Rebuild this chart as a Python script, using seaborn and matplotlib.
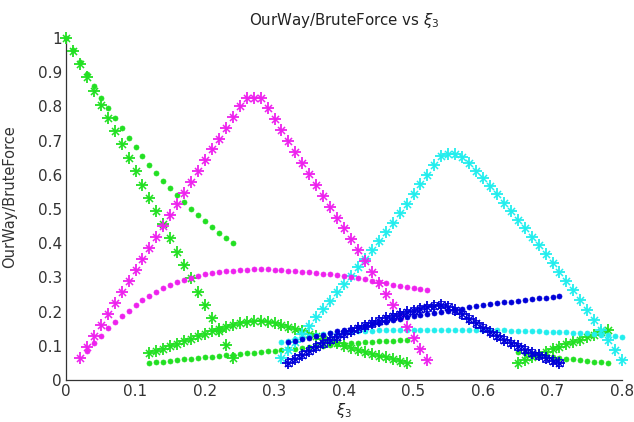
import numpy as np
import matplotlib
matplotlib.use("Agg")
import matplotlib.pyplot as plt
import seaborn as sns

# ---------------- data ----------------
g1_x0, g1_x1 = 0.00, 0.24
g1_star = [1.00, 0.962, 0.925, 0.885, 0.845, 0.805, 0.765, 0.727, 0.69, 0.65,
           0.61, 0.57, 0.532, 0.495, 0.455, 0.415, 0.375, 0.337, 0.297, 0.258,
           0.22, 0.182, 0.143, 0.103, 0.065]
g1_dot = [1.00, 0.965, 0.93, 0.895, 0.86, 0.826, 0.794, 0.765, 0.736, 0.708,
          0.682, 0.655, 0.63, 0.606, 0.582, 0.56, 0.54, 0.52, 0.50, 0.482,
          0.465, 0.448, 0.43, 0.415, 0.40]

g2_x0, g2_x1 = 0.12, 0.49
g2_star = [0.08, 0.086, 0.092, 0.099, 0.106, 0.113, 0.12, 0.128, 0.135, 0.142,
           0.148, 0.155, 0.161, 0.166, 0.17, 0.172, 0.172, 0.17, 0.166, 0.161,
           0.155, 0.149, 0.142, 0.135, 0.128, 0.121, 0.114, 0.107, 0.10, 0.094,
           0.088, 0.082, 0.076, 0.071, 0.066, 0.061, 0.056, 0.051]
g2_dot = [0.05, 0.052, 0.054, 0.056, 0.058, 0.06, 0.062, 0.064, 0.066, 0.068,
          0.07, 0.072, 0.074, 0.076, 0.078, 0.08, 0.082, 0.084, 0.086, 0.088,
          0.09, 0.092, 0.094, 0.096, 0.098, 0.10, 0.102, 0.104, 0.106, 0.107,
          0.109, 0.11, 0.111, 0.113, 0.114, 0.115, 0.116, 0.117]

g3_x0, g3_x1 = 0.65, 0.78
g3_star = [0.05, 0.058, 0.066, 0.074, 0.082, 0.09, 0.097, 0.104, 0.111, 0.118,
           0.125, 0.132, 0.139, 0.146]
g3_dot = [0.083, 0.079, 0.076, 0.073, 0.07, 0.067, 0.064, 0.062, 0.06, 0.058,
          0.056, 0.054, 0.052, 0.05]

m_star_x0, m_star_x1 = 0.02, 0.52
m_star = [0.065, 0.097, 0.13, 0.162, 0.194, 0.226, 0.258, 0.29, 0.322, 0.354,
          0.386, 0.418, 0.45, 0.482, 0.514, 0.546, 0.578, 0.61, 0.642, 0.674,
          0.706, 0.738, 0.77, 0.80, 0.826, 0.826, 0.826, 0.795, 0.763, 0.731,
          0.699, 0.667, 0.635, 0.603, 0.571, 0.539, 0.507, 0.475, 0.443, 0.411,
          0.379, 0.347, 0.315, 0.283, 0.251, 0.219, 0.187, 0.155, 0.123, 0.091,
          0.059]
m_dot_x0, m_dot_x1 = 0.03, 0.52
m_dot = [0.085, 0.107, 0.13, 0.152, 0.17, 0.187, 0.202, 0.218, 0.233, 0.245,
         0.257, 0.268, 0.277, 0.286, 0.292, 0.299, 0.305, 0.309, 0.313, 0.316,
         0.318, 0.32, 0.322, 0.323, 0.324, 0.324, 0.324, 0.323, 0.322, 0.32,
         0.319, 0.317, 0.315, 0.313, 0.311, 0.309, 0.306, 0.303, 0.30, 0.297,
         0.294, 0.29, 0.287, 0.283, 0.279, 0.275, 0.271, 0.268, 0.265, 0.262]

c_x0, c_x1 = 0.31, 0.80
c_star = [0.063, 0.087, 0.111, 0.135, 0.159, 0.183, 0.207, 0.231, 0.256, 0.28,
          0.305, 0.33, 0.355, 0.38, 0.406, 0.432, 0.46, 0.488, 0.516, 0.544,
          0.572, 0.60, 0.628, 0.655, 0.662, 0.662, 0.653, 0.634, 0.612, 0.59,
          0.566, 0.543, 0.519, 0.494, 0.469, 0.444, 0.419, 0.394, 0.369, 0.343,
          0.317, 0.29, 0.263, 0.235, 0.206, 0.176, 0.147, 0.117, 0.087, 0.058]
c_dot = [0.11, 0.115, 0.12, 0.124, 0.128, 0.131, 0.134, 0.136, 0.138, 0.14,
         0.141, 0.142, 0.143, 0.144, 0.145, 0.145, 0.146, 0.146, 0.146, 0.147,
         0.147, 0.147, 0.147, 0.147, 0.147, 0.147, 0.146, 0.146, 0.146, 0.146,
         0.145, 0.145, 0.145, 0.144, 0.144, 0.143, 0.143, 0.142, 0.141, 0.141,
         0.14, 0.139, 0.138, 0.137, 0.136, 0.135, 0.133, 0.131, 0.129, 0.127]

b_x0, b_x1 = 0.32, 0.71
b_dot = [0.11, 0.115, 0.12, 0.124, 0.128, 0.133, 0.137, 0.142, 0.146, 0.15,
         0.155, 0.159, 0.163, 0.167, 0.171, 0.175, 0.179, 0.183, 0.187, 0.19,
         0.194, 0.197, 0.20, 0.203, 0.206, 0.209, 0.212, 0.215, 0.218, 0.221,
         0.224, 0.227, 0.229, 0.232, 0.234, 0.237, 0.239, 0.241, 0.243, 0.245]
b_star = [0.05, 0.062, 0.074, 0.086, 0.097, 0.107, 0.117, 0.126, 0.135, 0.143,
          0.151, 0.159, 0.166, 0.173, 0.18, 0.186, 0.192, 0.198, 0.203, 0.208,
          0.213, 0.217, 0.22, 0.214, 0.204, 0.192, 0.179, 0.166, 0.153, 0.141,
          0.129, 0.118, 0.108, 0.098, 0.089, 0.08, 0.072, 0.064, 0.057, 0.05]

x_ticks = [0, 0.1, 0.2, 0.3, 0.4, 0.5, 0.6, 0.7, 0.8]
x_tick_labels = ["0", "0.1", "0.2", "0.3", "0.4", "0.5", "0.6", "0.7", "0.8"]
y_ticks = [0, 0.1, 0.2, 0.3, 0.4, 0.5, 0.6, 0.7, 0.8, 0.9, 1]
y_tick_labels = ["0", "0.1", "0.2", "0.3", "0.4", "0.5", "0.6", "0.7", "0.8", "0.9", "1"]

# ---------------- style ----------------
GREEN = "#22e022"
MAGENTA = "#ee22ee"
CYAN = "#22eeee"
BLUE = "#0000d8"

sns.set_style("white")
plt.rcParams["font.family"] = ["DejaVu Sans"]
plt.rcParams["mathtext.fontset"] = "dejavusans"

fig = plt.figure(figsize=(6.34, 4.22), dpi=100)
ax = fig.add_axes([66 / 634, 1 - 380 / 422, (622 - 66) / 634, (380 - 38) / 422])


def grid(x0, x1):
    return np.round(np.arange(x0, x1 + 0.005, 0.01), 2)


def stars(x0, x1, y, color):
    xs = grid(x0, x1)
    sns.scatterplot(x=xs, y=y, marker="+", s=80, color=color, linewidth=1.3,
                    ax=ax, clip_on=False, legend=False, zorder=3)
    sns.scatterplot(x=xs, y=y, marker="x", s=26, color=color, linewidth=1.1,
                    ax=ax, clip_on=False, legend=False, zorder=3)


def dots(x0, x1, y, color):
    xs = grid(x0, x1)
    sns.scatterplot(x=xs, y=y, marker="o", s=13, color=color, edgecolor=color,
                    linewidth=0.5, ax=ax, clip_on=False, legend=False, zorder=3)


def squares(x0, x1, y, color):
    xs = grid(x0, x1)
    sns.scatterplot(x=xs, y=y, marker="s", s=24, facecolor="none",
                    edgecolor=color, linewidth=0.6, ax=ax, clip_on=False,
                    legend=False, zorder=3)


stars(g1_x0, g1_x1, g1_star, GREEN)
dots(g1_x0, g1_x1, g1_dot, GREEN)
stars(g2_x0, g2_x1, g2_star, GREEN)
dots(g2_x0, g2_x1, g2_dot, GREEN)
stars(g3_x0, g3_x1, g3_star, GREEN)
dots(g3_x0, g3_x1, g3_dot, GREEN)

stars(c_x0, c_x1, c_star, CYAN)
dots(c_x0, c_x1, c_dot, CYAN)

stars(m_star_x0, m_star_x1, m_star, MAGENTA)
dots(m_dot_x0, m_dot_x1, m_dot, MAGENTA)

squares(b_x0, b_x1, b_star, BLUE)
stars(b_x0, b_x1, b_star, BLUE)
dots(b_x0, b_x1, b_dot, BLUE)

ax.set_xlim(0, 0.8)
ax.set_ylim(0, 1)
ax.set_xticks(x_ticks)
ax.set_xticklabels(x_tick_labels)
ax.set_yticks(y_ticks)
ax.set_yticklabels(y_tick_labels)
ax.tick_params(direction="in", length=4, width=0.8, colors="#333333",
               labelsize=11, pad=3, labelcolor="#333333")
for side in ("top", "right"):
    ax.spines[side].set_visible(False)
for side in ("left", "bottom"):
    ax.spines[side].set_color("#333333")
    ax.spines[side].set_linewidth(0.9)

ax.set_title(r"OurWay/BruteForce vs $\xi_3$", fontsize=10.8, color="#222222", pad=9)
ax.set_xlabel(r"$\xi_3$", fontsize=10.5, color="#222222", labelpad=1)
ax.set_ylabel("OurWay/BruteForce", fontsize=10.5, color="#333333")
ax.yaxis.set_label_coords((17 - 66) / 556, (380 - 197) / 342)

fig.savefig("out.png", dpi=100)
